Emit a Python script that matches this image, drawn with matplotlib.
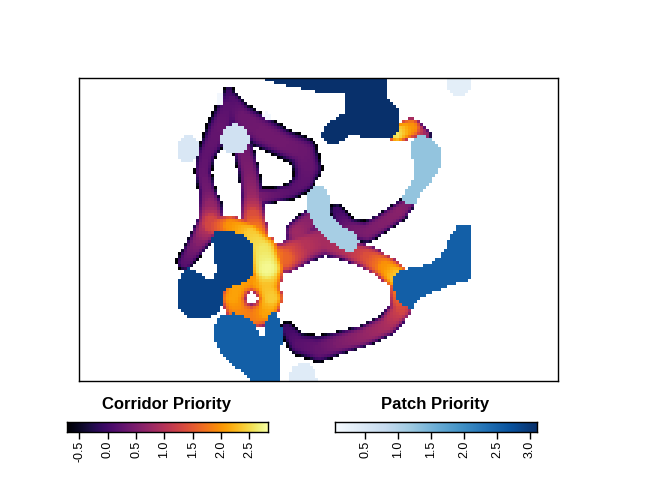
import numpy as np
import matplotlib
matplotlib.use('Agg')
import matplotlib.pyplot as plt
from matplotlib.path import Path

plt.rcParams['font.family'] = ['Liberation Sans', 'DejaVu Sans']

# value ranges of the two layers
corridor_range = (-0.72, 2.83)
patch_range = (0.04, 3.11)
corridor_ticks = [-0.5, 0.0, 0.5, 1.0, 1.5, 2.0, 2.5]
patch_ticks = [0.5, 1.0, 1.5, 2.0, 2.5, 3.0]

# corridor centre lines: (x, y, centre priority, half width), map units = image px
arm_left = [(229, 92, 0.0, 6), (228, 106, 0.2, 11), (220, 128, 0.3, 14), (206, 155, 0.25, 10),
            (203, 172, 0.3, 9), (207, 190, 0.4, 9), (210, 205, 0.7, 12), (211, 222, 1.3, 13),
            (199, 241, 0.6, 11), (185, 262, 0.2, 9)]
arc_top = [(232, 100, 0.15, 9), (242, 117, 0.35, 14), (262, 132, 0.4, 17), (283, 143, 0.4, 15),
           (303, 152, 0.35, 16), (308, 168, 0.3, 16), (304, 181, 0.25, 12), (292, 191, 0.2, 9),
           (275, 195, 0.3, 8), (256, 197, 0.5, 10)]
column = [(243, 148, 0.4, 11), (249, 172, 0.5, 11), (252, 195, 0.75, 11), (253, 215, 1.4, 12),
          (255, 235, 2.1, 14)]
junction = [(210, 226, 1.3, 10), (230, 226, 2.0, 11), (250, 234, 2.4, 12), (263, 250, 2.6, 15),
            (267, 268, 2.75, 16), (267, 285, 2.3, 14)]
ring = [(252, 279, 2.0, 12), (266, 284, 2.3, 12), (271, 298, 2.4, 12), (266, 312, 2.1, 12),
        (252, 317, 1.8, 12), (238, 312, 1.9, 12), (233, 298, 2.1, 12), (238, 284, 2.1, 12),
        (252, 279, 2.0, 12)]
band_right = [(262, 258, 2.3, 14), (285, 258, 1.6, 15), (305, 246, 1.0, 17), (325, 240, 0.85, 16),
              (348, 250, 1.0, 11), (368, 257, 1.4, 12), (386, 267, 2.0, 12), (398, 277, 2.45, 12)]
branch_up = [(298, 232, 0.8, 13), (316, 214, 0.5, 10)]
branch_right = [(338, 211, 0.0, 8), (350, 229, 0.4, 11), (368, 232, 0.5, 11), (385, 222, 0.55, 10),
                (400, 212, 0.6, 10), (408, 204, 0.5, 8)]
arc_bottom = [(287, 329, 0.0, 8), (299, 344, 0.2, 12), (320, 349, 0.3, 14), (340, 343, 0.5, 12),
              (365, 336, 0.7, 11), (388, 325, 0.9, 11), (402, 309, 1.3, 11), (402, 290, 1.9, 12)]
stub_top = [(398, 133, 2.6, 9), (412, 128, 2.0, 10), (425, 135, 0.8, 7)]
corridors = [arm_left, arc_top, column, junction, ring, band_right, branch_up, branch_right,
             arc_bottom, stub_top]

# habitat patches: outlines (image px) and priority
patch_top = [(264, 78), (388, 78), (389, 98), (400, 111), (401, 130), (393, 137), (370, 138),
             (352, 135), (340, 143), (330, 143), (323, 136), (324, 126), (333, 121), (347, 111),
             (347, 93), (320, 92), (300, 88), (280, 84), (264, 80)]
patch_top_right = [(447, 78), (472, 78), (471, 88), (465, 95), (455, 95), (449, 90)]
patch_east = [(420, 134), (432, 138), (440, 145), (443, 152), (443, 162), (438, 172), (432, 182),
              (425, 188), (420, 196), (418, 203), (410, 205), (404, 202), (404, 195), (410, 187),
              (415, 178), (416, 168), (413, 158), (412, 146), (415, 138)]
patch_middle = [(315, 185), (323, 186), (330, 195), (330, 208), (333, 218), (345, 228), (356, 233),
                (360, 240), (358, 250), (347, 252), (338, 246), (328, 238), (318, 228), (310, 218),
                (307, 205), (308, 193)]
patch_west = [(213, 232), (228, 231), (243, 234), (250, 240), (254, 250), (254, 270), (250, 279),
              (240, 284), (228, 288), (223, 292), (222, 305), (218, 313), (208, 318), (190, 318),
              (181, 312), (177, 300), (177, 285), (182, 274), (187, 268), (195, 270), (205, 278),
              (215, 279), (216, 266), (214, 252), (212, 240)]
patch_south = [(220, 315), (235, 313), (248, 318), (255, 326), (260, 336), (266, 336), (266, 322),
               (268, 314), (276, 313), (280, 320), (282, 330), (283, 342), (279, 352), (279, 382),
               (253, 382), (243, 372), (228, 362), (220, 352), (215, 340), (215, 325)]
patch_southeast = [(458, 226), (472, 226), (472, 280), (463, 282), (447, 287), (427, 295), (417, 302),
                   (412, 311), (405, 305), (397, 297), (394, 285), (396, 273), (410, 268), (427, 265),
                   (440, 258), (447, 248), (452, 235)]
polygons = [patch_top, patch_top_right, patch_east, patch_middle, patch_west, patch_south,
            patch_southeast]
polygon_values = [3.1, 0.35, 1.27, 1.1, 2.9, 2.55, 2.55]

# round patches: centre x, centre y, radius x, radius y
ellipse_cx = [188, 235, 220, 267, 303]
ellipse_cy = [149, 139, 99, 116, 382]
ellipse_rx = [11, 14, 4, 4, 15]
ellipse_ry = [14, 15, 7, 4, 19]
ellipse_values = [0.5, 0.65, 0.12, 0.1, 0.4]


def build_grid(cell=3):
    xs = np.arange(79 + cell / 2, 558, cell)
    ys = np.arange(78 + cell / 2, 381, cell)
    return np.meshgrid(xs, ys)


def corridor_layer(gx, gy, drop=1.3):
    out = np.full(gx.shape, -np.inf)
    for line in corridors:
        pts = np.array(line, dtype=float)
        for a, b in zip(pts[:-1], pts[1:]):
            d = b[:2] - a[:2]
            t = np.clip(((gx - a[0]) * d[0] + (gy - a[1]) * d[1]) / (d @ d), 0, 1)
            dist = np.hypot(gx - (a[0] + t * d[0]), gy - (a[1] + t * d[1]))
            v = a[2] + t * (b[2] - a[2])
            hw = a[3] + t * (b[3] - a[3])
            val = v - drop * (dist / hw) ** 4
            val[dist > hw] = -np.inf
            out = np.maximum(out, val)
    out[np.isinf(out)] = np.nan
    return np.clip(out, *corridor_range)


def patch_layer(gx, gy):
    out = np.full(gx.shape, np.nan)
    pts = np.column_stack([gx.ravel(), gy.ravel()])
    shapes = list(zip(polygons, polygon_values))
    ang = np.linspace(0, 2 * np.pi, 60)
    for cx, cy, rx, ry, v in zip(ellipse_cx, ellipse_cy, ellipse_rx, ellipse_ry, ellipse_values):
        shapes.append((np.column_stack([cx + rx * np.cos(ang), cy + ry * np.sin(ang)]), v))
    for poly, v in shapes:
        inside = Path(poly).contains_points(pts).reshape(gx.shape)
        out[inside] = v
    return out


def add_bar(fig, rect, cmap, vrange, ticks, title, title_x):
    cax = fig.add_axes(rect)
    grad = np.linspace(vrange[0], vrange[1], 256)[None, :]
    cax.imshow(grad, extent=[vrange[0], vrange[1], 0, 1], aspect='auto', cmap=cmap,
               vmin=vrange[0], vmax=vrange[1])
    cax.set_xlim(*vrange)
    cax.set_yticks([])
    cax.set_xticks(ticks)
    cax.set_xticklabels([f'{t:.1f}' for t in ticks])
    cax.tick_params(axis='x', direction='out', length=5, width=1, labelsize=9,
                    labelrotation=90, pad=1)
    for s in cax.spines.values():
        s.set_linewidth(1)
    fig.text(title_x, 1 - 404 / 480, title, ha='center', va='center', fontsize=12,
             fontweight='bold')


def main():
    fig = plt.figure(figsize=(6.72, 4.8), dpi=100)
    ax = fig.add_axes([79 / 672, 1 - 381 / 480, 479 / 672, 303 / 480])
    gx, gy = build_grid()
    corr = corridor_layer(gx, gy)
    patch = patch_layer(gx, gy)
    extent = [79, 558, 381, 78]
    ax.imshow(corr, extent=extent, cmap='inferno', vmin=corridor_range[0], vmax=corridor_range[1],
              interpolation='nearest', aspect='auto')
    ax.imshow(patch, extent=extent, cmap='Blues', vmin=patch_range[0], vmax=patch_range[1],
              interpolation='nearest', aspect='auto')
    ax.set_xlim(79, 558)
    ax.set_ylim(381, 78)
    ax.set_xticks([])
    ax.set_yticks([])
    for s in ax.spines.values():
        s.set_linewidth(1)

    add_bar(fig, [67 / 672, 1 - 432 / 480, 201 / 672, 10 / 480], 'inferno', corridor_range,
            corridor_ticks, 'Corridor Priority', 166 / 672)
    add_bar(fig, [335 / 672, 1 - 432 / 480, 202 / 672, 10 / 480], 'Blues', patch_range,
            patch_ticks, 'Patch Priority', 435 / 672)

    fig.savefig('out.png', dpi=100, facecolor='white')


if __name__ == '__main__':
    main()
